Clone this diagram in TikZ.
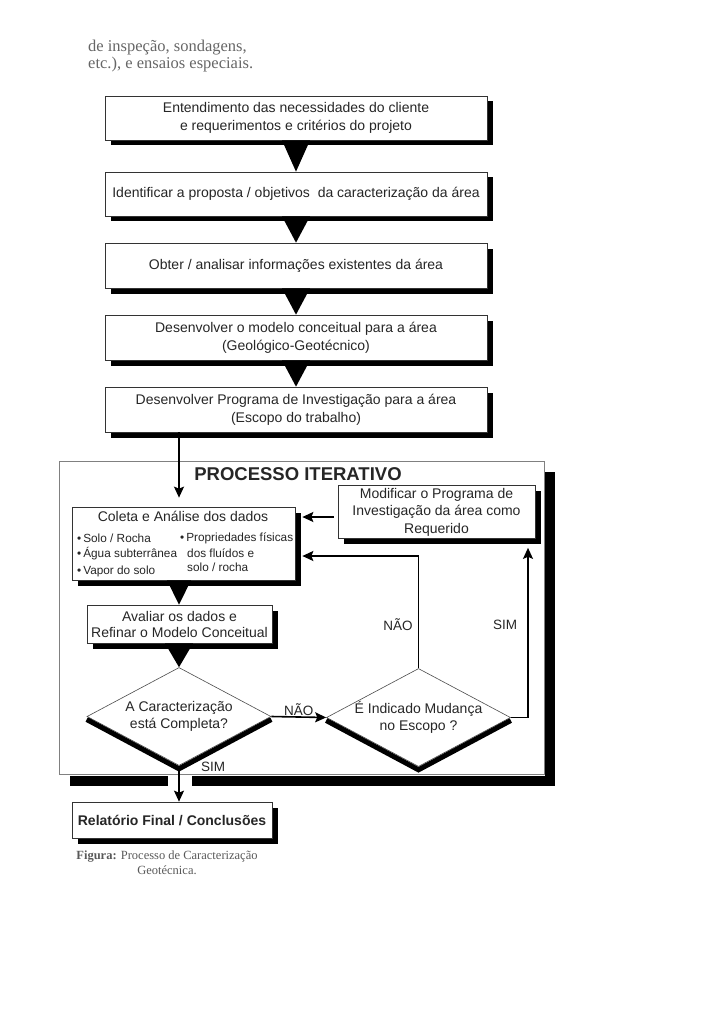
\documentclass[tikz,border=0pt]{standalone}
\usepackage{fontspec}
\setmainfont{Liberation Sans}
\newfontfamily\serifa{Liberation Serif}
\usetikzlibrary{calc,shadows,shapes.geometric,arrows.meta}

\tikzset{
  caixa/.style={draw=black!80, fill=white, line width=0.7pt, align=center, inner sep=0pt,
    text=black!85, font=\fontsize{14}{18}\selectfont,
    drop shadow={shadow xshift=5.5pt, shadow yshift=-5.5pt, fill=black, opacity=1}},
  losango/.style={diamond, draw=black!70, line width=0.6pt, inner sep=0pt,
    minimum width=184pt, minimum height=98pt},
  dentro/.style={align=center, text=black!85, font=\fontsize{14}{17}\selectfont},
  seta/.style={-{Stealth[length=11pt,width=10pt,inset=2pt]}, line width=1.6pt},
  rotulo/.style={text=black!85, font=\fontsize{13.5}{16}\selectfont},
  topico/.style={anchor=west, inner sep=0pt, text=black!85, font=\fontsize{11.8}{14}\selectfont},
}

\begin{document}
\begin{tikzpicture}[x=1pt,y=-1pt]
              \useasboundingbox (0,0) rectangle (724,1024);
              % texto do topo
              \node[anchor=north west, align=left, inner sep=0pt, text=black!60,
                font=\serifa\fontsize{16.5}{17}\selectfont] (topo) at (88,40)
                {de inspeção, sondagens,\\etc.), e ensaios especiais.};
              % etapas iniciais
              \node[caixa, minimum width=382pt, minimum height=44pt] (entend) at (296,118)
                {Entendimento das necessidades do cliente\\e requerimentos e critérios do projeto};
              \node[caixa, minimum width=382pt, minimum height=44pt] (ident) at (296,194)
                {Identificar a proposta / objetivos\ \ da caracterização da área};
              \node[caixa, minimum width=382pt, minimum height=45pt] (obter) at (296,265.5)
                {Obter / analisar informações existentes da área};
              \node[caixa, minimum width=382pt, minimum height=45pt] (modelo) at (296,337.5)
                {Desenvolver o modelo conceitual para a área\\(Geológico-Geotécnico)};
              \node[caixa, minimum width=382pt, minimum height=45pt] (progr) at (296,409.5)
                {Desenvolver Programa de Investigação para a área\\(Escopo do trabalho)};
              \foreach \a/\b in {entend/ident, ident/obter, obter/modelo, modelo/progr}
                \fill ($(\a.south)+(-14,0)$) -- ($(\a.south)+(14,0)$) -- (\b.north) -- cycle;
              % processo iterativo
              \draw[black!50, line width=0.7pt, fill=white] (59,461) rectangle (544,774);
              \fill (545,472) rectangle (555,786);
              \fill (70,776) rectangle (168,786);
              \fill (192,776) rectangle (555,786);
              \node[text=black!85, font=\bfseries\fontsize{18.5}{20}\selectfont] (titulo) at (298,474)
                {PROCESSO ITERATIVO};
              \node[caixa, minimum width=223pt, minimum height=73pt] (coleta) at (183.5,543.5) {};
              \node[text=black!85, font=\fontsize{14}{16}\selectfont] (coletatit) at (183,516)
                {Coleta e Análise dos dados};
              \node[topico] (solo) at (77,538) {•\,Solo / Rocha};
              \node[topico] (agua) at (77,554) {•\,Água subterrânea};
              \node[topico] (vapor) at (77,571) {•\,Vapor do solo};
              \node[topico] (propr) at (180,538) {•\,Propriedades físicas};
              \node[topico] (fluido) at (187,553) {dos fluídos e};
              \node[topico] (rocha) at (187,567) {solo / rocha};
              \node[caixa, minimum width=197pt, minimum height=53pt,
                font=\fontsize{14}{17.5}\selectfont] (modif) at (436.5,512)
                {Modificar o Programa de\\Investigação da área como\\Requerido};
              \node[caixa, minimum width=185pt, minimum height=38pt,
                font=\fontsize{14}{16}\selectfont] (avaliar) at (179.5,624)
                {Avaliar os dados e\\Refinar o Modelo Conceitual};
              \node[losango, label={[dentro]center:A Caracterização\\está Completa?}] (completa) at (179,716.5) {};
              \node[losango, label={[dentro]center:É Indicado Mudança\\no Escopo ?}] (mudanca) at (418.5,717.5) {};
              \foreach \d in {completa, mudanca}
                \draw[line width=5pt] ([yshift=-3pt]\d.west) -- ([yshift=-3pt]\d.south)
                  -- ([yshift=-3pt]\d.east);
              \fill ($(coleta.south -| completa.north)+(-12,0)$) -- ($(coleta.south -| completa.north)+(12,0)$)
                -- (avaliar.north -| completa.north) -- cycle;
              \fill ($(avaliar.south -| completa.north)+(-14,0)$) -- ($(avaliar.south -| completa.north)+(14,0)$)
                -- (completa.north) -- cycle;
              % setas
              \coordinate (k1) at ($(modif.west)+(-4,5)$);
              \coordinate (k2) at (418.5,556);
              \coordinate (k3) at (528,716);
              \draw[seta, shorten >=9pt] (progr.south -| completa.north) -- (coleta.north -| completa.north);
              \draw[seta, shorten >=7pt] (k1) -- (coleta.east |- k1);
              \draw[seta, shorten >=7pt] (mudanca.north) |- (coleta.east |- k2);
              \draw[seta, shorten >=9pt] (mudanca.east) -| (modif.south -| k3);
              \draw[seta] (completa.east) -- node[rotulo, above, inner sep=0.5pt] (nao1) {NÃO} (mudanca.west);
              \node[rotulo] (nao2) at (398,625) {NÃO};
              \node[rotulo] (sim2) at (505,625) {SIM};
              % saida
              \node[caixa, minimum width=200pt, minimum height=36pt,
                font=\bfseries\fontsize{14}{16}\selectfont] (final) at (172,820)
                {Relatório Final / Conclusões};
              \draw[seta] (completa.south) -- (completa.south |- final.north);
              \node[rotulo] (sim1) at (213,767) {SIM};
              \node[align=center, text=black!65, font=\serifa\fontsize{12.5}{15}\selectfont] (legenda) at (167,862.5)
                {\textbf{Figura:} Processo de Caracterização\\Geotécnica.};
\end{tikzpicture}
\end{document}
